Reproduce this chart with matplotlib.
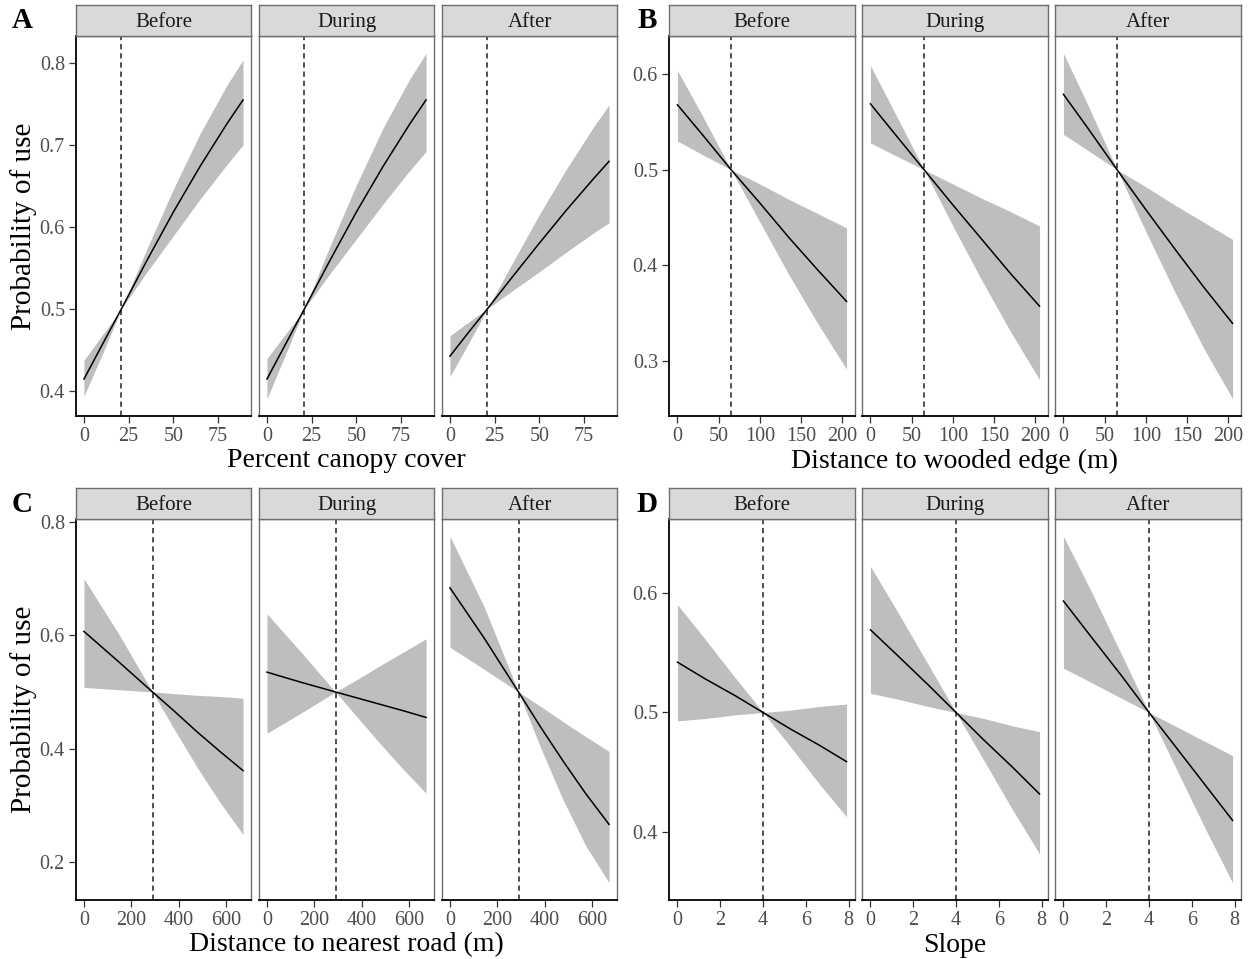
import matplotlib
matplotlib.use("Agg")
import matplotlib.pyplot as plt
from matplotlib.ticker import FormatStrFormatter
import numpy as np

plt.rcParams['font.family'] = ['Liberation Serif', 'DejaVu Serif']

periods = ["Before", "During", "After"]

# percent canopy cover
canopy_x = [0, 10, 21, 35, 50, 65, 80, 89]
canopy_mean = 21
canopy_fit = [
    [0.414, 0.455, 0.500, 0.558, 0.618, 0.674, 0.726, 0.755],
    [0.414, 0.455, 0.500, 0.558, 0.618, 0.674, 0.726, 0.755],
    [0.442, 0.470, 0.500, 0.539, 0.580, 0.620, 0.658, 0.680],
]
canopy_hi = [
    [0.437, 0.467, 0.500, 0.572, 0.646, 0.714, 0.773, 0.804],
    [0.439, 0.468, 0.500, 0.575, 0.651, 0.721, 0.781, 0.812],
    [0.467, 0.483, 0.500, 0.556, 0.615, 0.670, 0.721, 0.749],
]
canopy_lo = [
    [0.393, 0.443, 0.500, 0.544, 0.589, 0.634, 0.676, 0.700],
    [0.390, 0.442, 0.500, 0.542, 0.585, 0.628, 0.669, 0.692],
    [0.417, 0.456, 0.500, 0.522, 0.545, 0.569, 0.592, 0.605],
]

# distance to wooded edge
edge_x = [0, 30, 65, 100, 135, 170, 205]
edge_mean = 65
edge_fit = [
    [0.568, 0.537, 0.500, 0.465, 0.429, 0.395, 0.362],
    [0.569, 0.537, 0.500, 0.463, 0.427, 0.391, 0.357],
    [0.579, 0.543, 0.500, 0.458, 0.417, 0.377, 0.339],
]
edge_hi = [
    [0.604, 0.557, 0.500, 0.485, 0.469, 0.454, 0.439],
    [0.609, 0.559, 0.500, 0.485, 0.470, 0.456, 0.441],
    [0.622, 0.567, 0.500, 0.482, 0.463, 0.445, 0.427],
]
edge_lo = [
    [0.530, 0.516, 0.500, 0.445, 0.390, 0.339, 0.291],
    [0.528, 0.515, 0.500, 0.441, 0.384, 0.330, 0.280],
    [0.537, 0.520, 0.500, 0.435, 0.372, 0.313, 0.260],
]

# distance to nearest road
road_x = [0, 145, 290, 385, 480, 575, 673]
road_mean = 290
road_fit = [
    [0.607, 0.554, 0.500, 0.465, 0.429, 0.395, 0.361],
    [0.535, 0.517, 0.500, 0.489, 0.478, 0.467, 0.455],
    [0.684, 0.595, 0.500, 0.437, 0.377, 0.320, 0.266],
]
road_hi = [
    [0.700, 0.604, 0.500, 0.497, 0.494, 0.492, 0.489],
    [0.638, 0.570, 0.500, 0.523, 0.547, 0.570, 0.594],
    [0.775, 0.650, 0.500, 0.474, 0.447, 0.421, 0.395],
]
road_lo = [
    [0.508, 0.504, 0.500, 0.432, 0.366, 0.305, 0.248],
    [0.427, 0.463, 0.500, 0.454, 0.408, 0.364, 0.321],
    [0.579, 0.540, 0.500, 0.400, 0.308, 0.228, 0.163],
]

# slope
slope_x = [0, 1.3, 2.7, 4, 5.3, 6.6, 7.9]
slope_mean = 4
slope_fit = [
    [0.542, 0.528, 0.514, 0.500, 0.486, 0.473, 0.459],
    [0.569, 0.547, 0.523, 0.500, 0.477, 0.455, 0.432],
    [0.593, 0.563, 0.531, 0.500, 0.470, 0.440, 0.410],
]
slope_hi = [
    [0.590, 0.561, 0.529, 0.500, 0.502, 0.505, 0.507],
    [0.622, 0.583, 0.540, 0.500, 0.495, 0.489, 0.484],
    [0.647, 0.601, 0.549, 0.500, 0.488, 0.476, 0.464],
]
slope_lo = [
    [0.493, 0.495, 0.498, 0.500, 0.471, 0.441, 0.413],
    [0.516, 0.511, 0.505, 0.500, 0.460, 0.420, 0.382],
    [0.537, 0.525, 0.512, 0.500, 0.452, 0.404, 0.358],
]

W, H = 1248, 959
fig = plt.figure(figsize=(W / 100, H / 100), dpi=100)
fig.patch.set_facecolor("white")

TICK_COL = "#4D4D4D"
BORDER = "#6E6E6E"


def px_axes(x0, y0, x1, y1):
    return fig.add_axes([x0 / W, 1 - y1 / H, (x1 - x0) / W, (y1 - y0) / H])


def panel(letter, x, fit, lo, hi, mean, xticks, yticks, xlabel, ylabel, lefts, width, top, bottom, letter_x):
    xs = np.array(x, dtype=float)
    ymin = min(min(r) for r in lo)
    ymax = max(max(r) for r in hi)
    ypad = (ymax - ymin) * 0.05
    xpad = (xs.max() - xs.min()) * 0.05
    strip_h = 31
    for i, name in enumerate(periods):
        x0 = lefts[i]
        ax = px_axes(x0, top + strip_h, x0 + width, bottom)
        ax.fill_between(xs, lo[i], hi[i], color="#BEBEBE", linewidth=0, zorder=1)
        ax.plot(xs, fit[i], color="black", lw=1.1, zorder=3)
        ax.axvline(mean, color="#222222", lw=1.1, ls=(0, (3.5, 2.5)), zorder=2)
        ax.set_xlim(xs.min() - xpad, xs.max() + xpad)
        ax.set_ylim(ymin - ypad, ymax + ypad)
        ax.set_xticks(xticks)
        ax.set_yticks(yticks)
        ax.yaxis.set_major_formatter(FormatStrFormatter('%.1f'))
        ax.tick_params(axis="both", labelsize=14.5, colors="#333333", labelcolor=TICK_COL,
                       length=5, width=0.9, pad=3)
        for s in ["top", "right", "left"]:
            ax.spines[s].set_color(BORDER)
            ax.spines[s].set_linewidth(1.0)
        ax.spines["bottom"].set_color("black")
        ax.spines["bottom"].set_linewidth(1.3)
        if i == 0:
            ax.spines["left"].set_color("black")
            ax.spines["left"].set_linewidth(1.3)
            if ylabel:
                ax.set_ylabel(ylabel, fontsize=21, labelpad=2)
        else:
            ax.tick_params(axis="y", left=False, labelleft=False)
        # facet strip
        st = px_axes(x0, top, x0 + width, top + strip_h)
        st.set_facecolor("#D9D9D9")
        st.set_xticks([])
        st.set_yticks([])
        for s in st.spines.values():
            s.set_color(BORDER)
            s.set_linewidth(1.0)
        st.text(0.5, 0.42, name, ha="center", va="center", fontsize=15, color="#1A1A1A",
                transform=st.transAxes)
    cx = (lefts[0] + lefts[2] + width) / 2
    fig.text(cx / W, 1 - (bottom + 45) / H, xlabel, ha="center", va="center", fontsize=20)
    fig.text(letter_x / W, 1 - (top + 16) / H, letter, ha="center", va="center",
             fontsize=21, fontweight="bold")


left_cols = [76, 259, 442]
right_cols = [669, 862, 1055]

panel("A", canopy_x, canopy_fit, canopy_lo, canopy_hi, canopy_mean, [0, 25, 50, 75],
      [0.4, 0.5, 0.6, 0.7, 0.8], "Percent canopy cover", "Probability of use",
      left_cols, 175, 5, 416, 22)
panel("B", edge_x, edge_fit, edge_lo, edge_hi, edge_mean, [0, 50, 100, 150, 200],
      [0.3, 0.4, 0.5, 0.6], "Distance to wooded edge (m)", None,
      right_cols, 186, 5, 416, 647)
panel("C", road_x, road_fit, road_lo, road_hi, road_mean, [0, 200, 400, 600],
      [0.2, 0.4, 0.6, 0.8], "Distance to nearest road (m)", "Probability of use",
      left_cols, 175, 488, 900, 22)
panel("D", slope_x, slope_fit, slope_lo, slope_hi, slope_mean, [0, 2, 4, 6, 8],
      [0.4, 0.5, 0.6], "Slope", None,
      right_cols, 186, 488, 900, 647)

fig.savefig("out.png", dpi=100, facecolor="white")
